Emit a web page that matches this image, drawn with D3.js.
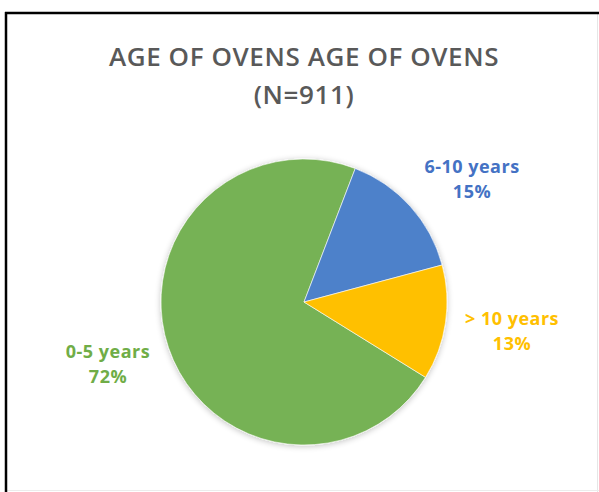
<!DOCTYPE html>
<html>
<head>
<meta charset="utf-8">
<script src="https://cdn.jsdelivr.net/npm/d3@7"></script>
<style>
  html, body { margin: 0; padding: 0; background: #fff; }
  svg { display: block; }
  text { font-family: "Open Sans", "Noto Sans", sans-serif; }
</style>
</head>
<body>
<script>
// Age distribution of ovens
const categories = ["0-5 years", "6-10 years", "> 10 years"];
const shares = [72, 15, 13];
const sliceColors = ["#76B254", "#4E81CA", "#FFC000"];
const labelColors = ["#70AD47", "#4472C4", "#FFC000"];
const titleLines = ["AGE OF OVENS AGE OF OVENS", "(N=911)"];

const W = 599, H = 492;
const svg = d3.select("body").append("svg").attr("width", W).attr("height", H);

// frame: dark rule on top and left, faint rule on right and bottom
svg.append("rect").attr("x", 0).attr("y", 0).attr("width", W).attr("height", H).attr("fill", "#fff");
svg.append("line").attr("x1", 597.5).attr("y1", 14).attr("x2", 597.5).attr("y2", H).attr("stroke", "#e6e6e6");
svg.append("line").attr("x1", 6).attr("y1", 490.5).attr("x2", W).attr("y2", 490.5).attr("stroke", "#ececec");
svg.append("line").attr("x1", 5).attr("y1", 13).attr("x2", W).attr("y2", 13).attr("stroke", "#000").attr("stroke-width", 2.5);
svg.append("line").attr("x1", 6).attr("y1", 12).attr("x2", 6).attr("y2", H).attr("stroke", "#000").attr("stroke-width", 2.5);

// title
const title = svg.append("g").attr("fill", "#595959").attr("font-weight", 600)
  .attr("text-anchor", "middle").attr("font-size", 26).attr("letter-spacing", 0.6);
title.append("text").attr("x", 304).attr("y", 66).text(titleLines[0]);
title.append("text").attr("x", 304).attr("y", 104).text(titleLines[1]);

// pie
const cx = 304, cy = 302, R = 143;
const defs = svg.append("defs");
const f = defs.append("filter").attr("id", "soft").attr("x", "-20%").attr("y", "-20%").attr("width", "140%").attr("height", "140%");
f.append("feGaussianBlur").attr("in", "SourceAlpha").attr("stdDeviation", 3).attr("result", "b");
f.append("feOffset").attr("in", "b").attr("dy", 1).attr("result", "o");
f.append("feComponentTransfer").attr("in", "o").attr("result", "s")
  .append("feFuncA").attr("type", "linear").attr("slope", 0.25);
const m = f.append("feMerge");
m.append("feMergeNode").attr("in", "s");
m.append("feMergeNode").attr("in", "SourceGraphic");

const data = categories.map((c, i) => ({ cat: c, value: shares[i], i }));
const startDeg = 21 - 360 * shares[0] / 100;
const pie = d3.pie().sort(null).value(d => d.value)
  .startAngle(startDeg * Math.PI / 180)
  .endAngle((startDeg + 360) * Math.PI / 180);
const arc = d3.arc().innerRadius(0).outerRadius(R);

const pg = svg.append("g").attr("transform", `translate(${cx},${cy})`).attr("filter", "url(#soft)");
pg.selectAll("path").data(pie(data)).join("path")
  .attr("d", arc)
  .attr("fill", d => sliceColors[d.data.i])
  .attr("stroke", "#fff").attr("stroke-width", 0.6);

// slice labels: category name above its percentage
const labelPos = [[108, 358], [472, 173], [512, 325]];
const lg = svg.append("g").attr("font-weight", 700).attr("font-size", 18)
  .attr("letter-spacing", 0.5).attr("text-anchor", "middle");
data.forEach((d, k) => {
  lg.append("text").attr("fill", labelColors[k])
    .attr("x", labelPos[k][0]).attr("y", labelPos[k][1]).text(d.cat);
  lg.append("text").attr("fill", labelColors[k])
    .attr("x", labelPos[k][0]).attr("y", labelPos[k][1] + 25).text(d.value + "%");
});
</script>
</body>
</html>
